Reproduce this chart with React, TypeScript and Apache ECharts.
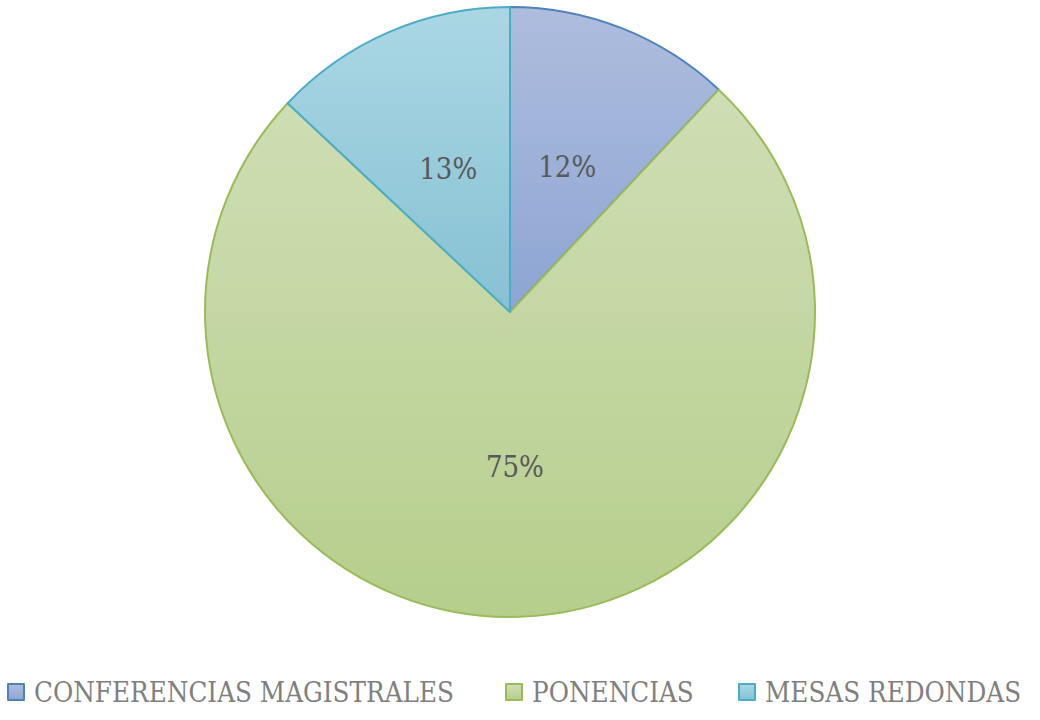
import React, { useEffect, useRef } from "react";
import * as echarts from "echarts";

const categories = ["CONFERENCIAS MAGISTRALES", "PONENCIAS", "MESAS REDONDAS"];
const values = [12, 75, 13];
const topColors = ["#aebdde", "#cfdeb5", "#abd7e4"];
const bottomColors = ["#8da5d3", "#b6ce8c", "#86c1d3"];
const borderColors = ["#4f81bd", "#9bbb59", "#4bacc6"];
const legendLefts = [7, 505, 738];

export default function App() {
  const ref = useRef<HTMLDivElement>(null);
  useEffect(() => {
    if (!ref.current) return;
    const chart = echarts.init(ref.current, undefined, { renderer: "svg" });
    const font = "'DejaVu Serif Condensed', 'DejaVu Serif', serif";
    const data = categories.map((name, i) => ({
      name,
      value: values[i],
      itemStyle: {
        color: new echarts.graphic.LinearGradient(0, 0, 0, 1, [
          { offset: 0, color: topColors[i] },
          { offset: 1, color: bottomColors[i] },
        ]),
        borderColor: borderColors[i],
        borderWidth: 2,
      },
    }));
    chart.setOption({
      animation: false,
      backgroundColor: "#ffffff",
      legend: categories.map((name, i) => ({
        data: [name],
        left: legendLefts[i],
        top: 678,
        padding: 0,
        icon: "rect",
        itemWidth: 16,
        itemHeight: 16,
        itemGap: 10,
        textStyle: {
          fontFamily: font,
          fontSize: 27.5,
          color: "#7f7f7f",
          padding: [0, 0, 0, 5],
        },
      })),
      series: [
        {
          type: "pie",
          center: [510, 312],
          radius: [0, 305],
          startAngle: 90,
          clockwise: true,
          label: {
            show: true,
            position: "inner",
            formatter: "{c}%",
            fontFamily: font,
            fontSize: 29,
            color: "#595959",
          },
          labelLine: { show: false },
          emphasis: { disabled: true },
          data,
        },
      ],
    });
    return () => chart.dispose();
  }, []);
  return (
    <div
      ref={ref}
      style={{ position: "absolute", left: 0, top: 0, width: 1040, height: 720 }}
    />
  );
}
